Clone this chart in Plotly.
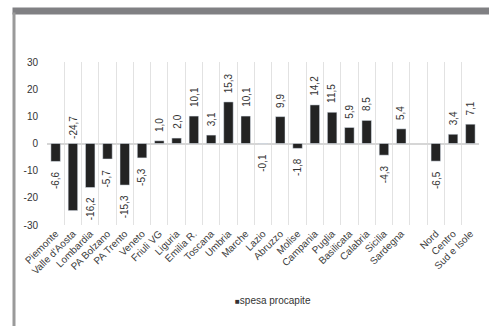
import plotly.graph_objects as go

categories = ["Piemonte", "Valle d'Aosta", "Lombardia", "PA Bolzano", "PA Trento", "Veneto",
              "Friuli VG", "Liguria", "Emilia R.", "Toscana", "Umbria", "Marche", "Lazio",
              "Abruzzo", "Molise", "Campania", "Puglia", "Basilicata", "Calabria", "Sicilia",
              "Sardegna", " ", "Nord", "Centro", "Sud e Isole"]
values = [-6.6, -24.7, -16.2, -5.7, -15.3, -5.3, 1.0, 2.0, 10.1, 3.1, 15.3, 10.1, -0.1,
          9.9, -1.8, 14.2, 11.5, 5.9, 8.5, -4.3, 5.4, None, -6.5, 3.4, 7.1]
y_ticks = [-30, -20, -10, 0, 10, 20, 30]
y_tick_labels = ["-30", "-20", "-10", "0", "10", "20", "30"]
series_name = "spesa procapite"

# plot geometry (pixels)
W, H = 489, 326
L, R, T, B = 47, 10, 62, 101
PW, PH = W - L - R, H - T - B

def px_x(px):
    return (px - L) / PW

def px_y(py):
    return (H - B - py) / PH

fig = go.Figure()
fig.add_trace(go.Bar(
    x=categories, y=values, name=series_name,
    marker=dict(color="#232323"),
    width=0.55,
    showlegend=False,
))

annotations = []
for c, v in zip(categories, values):
    if v is None:
        continue
    txt = f"{v:.1f}".replace(".", ",")
    if v >= 0:
        annotations.append(dict(x=c, y=v, xref="x", yref="y", text=txt, textangle=-90,
                                showarrow=False, yanchor="bottom", xanchor="center", yshift=7))
    elif v < -20:
        # label doesn't fit below: Excel puts it above the baseline
        annotations.append(dict(x=c, y=0, xref="x", yref="y", text=txt, textangle=-90,
                                showarrow=False, yanchor="bottom", xanchor="center", yshift=3))
    else:
        annotations.append(dict(x=c, y=v, xref="x", yref="y", text=txt, textangle=-90,
                                showarrow=False, yanchor="top", xanchor="center", yshift=-8))

# legend
annotations.append(dict(x=px_x(273), y=px_y(300), xref="paper", yref="paper",
                        text="<span style='font-size:8px'>■</span>" + series_name,
                        showarrow=False, xanchor="center", yanchor="middle",
                        font=dict(size=10, color="#333333")))

# frame: grey top band and left rule
annotations.append(dict(x=px_x(12), y=px_y(7), xref="paper", yref="paper", text=" ",
                        showarrow=False, xanchor="left", yanchor="top",
                        width=477, height=6, borderpad=0, bgcolor="#808083",
                        font=dict(size=1)))
annotations.append(dict(x=px_x(12), y=px_y(12), xref="paper", yref="paper", text=" ",
                        showarrow=False, xanchor="left", yanchor="top",
                        width=1.5, height=314, borderpad=0, bgcolor="#9a9a9a",
                        font=dict(size=1)))

fig.update_layout(
    width=W, height=H,
    margin=dict(l=L, r=R, t=T, b=B),
    paper_bgcolor="white", plot_bgcolor="white",
    font=dict(family="Liberation Sans", size=10, color="#333333"),
    showlegend=False,
    annotations=annotations,
    xaxis=dict(type="category", tickangle=-45, tickson="boundaries", showgrid=True,
               gridcolor="#e2e2e2", gridwidth=1, ticks="", showline=False,
               tickfont=dict(size=10, color="#404040")),
    yaxis=dict(range=[-30, 30], tickvals=y_ticks, ticktext=y_tick_labels,
               showgrid=False, zeroline=True,
               zerolinecolor="#d6d6d6", zerolinewidth=2, ticks="", showline=False,
               ticklabelstandoff=8,
               tickfont=dict(size=10, color="#333333")),
)

fig.write_html("out.html")
